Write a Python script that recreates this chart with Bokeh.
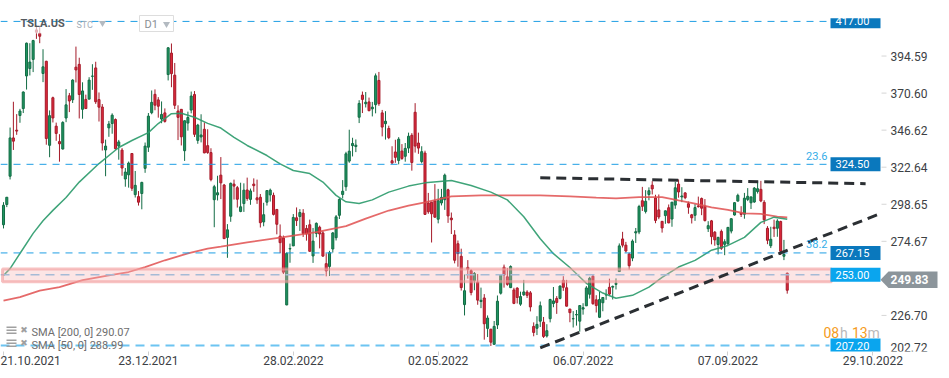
from bokeh.plotting import figure
from bokeh.models import Range1d, FixedTicker
from bokeh.core.properties import value
from bokeh.embed import file_html
from bokeh.resources import INLINE

# ---------------- data (TSLA.US daily, 21.10.2021 - 03.10.2022) ----------------
opens = [
    285.4, 298.5, 316.8, 341.6, 346.6, 356.1, 360.6, 381.7, 386.5, 392.4,
    411.5, 409.3, 383.3, 391.2, 336.8, 367.6, 349.2, 339.2, 334.4, 354.5,
    368.9, 366.3, 387.4, 389.2, 360.1, 366.5, 366.7, 381.5, 386.9, 366.4,
    361.6, 333.8, 348.1, 350.9, 353.5, 336.3, 333.7, 315.0, 317.7, 331.5,
    304.9, 303.6, 305.6, 321.9, 335.6, 357.9, 369.8, 366.2, 353.8, 357.8,
    382.6, 396.5, 382.2, 359.0, 360.1, 333.3, 351.2, 359.6, 369.7, 340.0,
    342.2, 347.2, 336.6, 332.1, 301.6, 304.7, 317.5, 311.1, 277.2, 290.9,
    311.7, 309.4, 294.0, 299.1, 307.9, 301.8, 311.7, 302.8, 303.2, 287.2,
    300.0, 304.7, 304.4, 295.3, 278.0, 276.8, 233.5, 269.7, 271.7, 289.9,
    290.7, 292.9, 283.0, 285.4, 265.2, 279.8, 283.8, 280.1, 260.2, 258.4,
    269.7, 277.0, 291.5, 305.0, 310.0, 326.6, 336.6, 336.0, 355.0, 369.3,
    363.7, 364.9, 360.4, 363.1, 378.8, 357.8, 350.8, 347.7, 326.8, 332.5,
    327.0, 333.1, 329.7, 335.0, 343.3, 358.2, 338.3, 326.3, 331.8, 299.5,
    300.0, 300.8, 289.0, 299.5, 301.6, 308.0, 289.7, 278.8, 273.1, 265.0,
    233.7, 257.8, 255.7, 249.1, 248.2, 235.7, 238.0, 218.3, 217.8, 208.0,
    220.5, 241.1, 257.9, 251.7, 244.7, 243.2, 244.4, 234.0, 240.1, 241.8,
    241.3, 219.6, 218.4, 223.0, 222.3, 213.4, 224.6, 234.4, 237.7, 237.7,
    249.4, 244.6, 230.8, 224.5, 227.0, 223.0, 230.8, 232.9, 240.4, 252.1,
    236.8, 225.5, 234.9, 240.0, 244.9, 245.0, 246.8, 255.1, 276.2, 272.2,
    266.5, 263.8, 280.1, 280.7, 300.9, 294.0, 305.0, 311.0, 302.7, 295.0,
    287.6, 291.3, 296.4, 289.1, 298.1, 311.7, 303.4, 306.0, 299.0, 291.8,
    291.5, 297.6, 302.4, 297.4, 282.8, 287.9, 280.6, 272.6, 281.1, 272.7,
    273.1, 281.3, 291.7, 300.7, 292.9, 292.2, 301.8, 299.6, 300.1, 306.9,
    308.3, 299.9, 283.1, 271.8, 283.8, 283.1, 287.5, 265.0, 254.0,
]
highs = [
    300.0, 303.3, 348.3, 365.0, 357.0, 360.4, 371.7, 403.3, 402.9, 405.1,
    414.5, 413.3, 399.0, 391.5, 359.4, 368.3, 351.5, 344.0, 352.4, 373.2,
    370.7, 379.6, 400.7, 393.5, 377.6, 369.6, 380.9, 389.3, 390.9, 371.0,
    363.5, 340.5, 352.6, 357.5, 354.2, 340.3, 335.0, 322.1, 326.3, 331.7,
    320.2, 307.2, 313.2, 338.6, 357.7, 372.3, 373.0, 368.0, 365.2, 360.7,
    400.4, 402.7, 390.1, 362.7, 360.3, 353.0, 358.6, 371.6, 371.9, 350.7,
    356.9, 351.6, 347.2, 334.9, 311.2, 317.1, 329.2, 311.8, 285.8, 312.7,
    314.6, 310.5, 312.6, 312.2, 315.9, 308.8, 315.4, 314.6, 305.3, 299.6,
    307.7, 308.8, 306.2, 295.6, 285.6, 278.4, 267.5, 273.2, 292.3, 296.6,
    295.5, 295.5, 285.2, 288.7, 283.3, 286.9, 284.8, 281.3, 266.9, 268.5,
    280.7, 291.7, 302.6, 314.3, 332.6, 346.9, 341.7, 340.6, 366.0, 371.6,
    371.3, 367.7, 364.9, 383.3, 384.3, 359.7, 358.9, 349.5, 336.2, 340.4,
    342.1, 337.6, 338.3, 345.0, 344.7, 364.1, 345.0, 336.2, 333.3, 306.0,
    300.0, 311.7, 308.6, 308.6, 318.5, 308.7, 293.3, 281.9, 275.2, 269.9,
    253.2, 262.5, 256.6, 254.8, 253.5, 244.7, 240.5, 226.7, 218.0, 223.1,
    239.6, 253.3, 259.6, 257.3, 259.1, 244.6, 244.9, 242.1, 249.7, 243.0,
    242.5, 222.2, 226.2, 235.7, 225.7, 221.0, 237.5, 245.1, 239.2, 246.1,
    252.1, 249.7, 231.0, 229.5, 230.2, 233.1, 234.6, 245.7, 251.7, 253.1,
    239.8, 242.1, 238.6, 243.6, 250.5, 246.0, 250.7, 273.3, 280.8, 274.3,
    267.3, 275.9, 283.3, 298.3, 309.9, 307.8, 309.6, 313.6, 304.8, 305.0,
    287.7, 294.6, 298.5, 300.1, 313.1, 314.7, 309.7, 306.5, 300.4, 292.4,
    298.8, 303.6, 303.0, 302.0, 287.7, 288.5, 281.3, 277.6, 282.3, 276.0,
    283.8, 289.5, 299.9, 305.5, 297.4, 306.0, 309.1, 303.7, 309.8, 313.8,
    313.8, 301.3, 284.5, 284.1, 288.7, 289.0, 288.0, 275.6, 254.5,
]
lows = [
    283.0, 296.8, 314.7, 333.8, 343.6, 351.4, 357.7, 372.9, 382.0, 384.2,
    405.7, 402.9, 377.7, 337.2, 329.1, 351.6, 339.7, 326.2, 334.1, 351.8,
    358.3, 364.2, 377.5, 354.2, 354.0, 360.3, 366.7, 372.7, 363.6, 352.2,
    333.4, 316.8, 342.3, 344.3, 334.1, 327.5, 317.1, 310.0, 309.4, 307.3,
    303.0, 297.8, 295.4, 319.0, 332.5, 356.9, 359.5, 354.7, 351.1, 351.5,
    378.8, 374.4, 360.3, 340.2, 336.7, 326.7, 346.3, 357.5, 342.2, 337.8,
    338.7, 331.7, 331.3, 313.5, 283.8, 301.1, 302.0, 276.3, 264.0, 287.3,
    301.7, 296.5, 293.5, 293.7, 300.9, 298.3, 306.7, 298.9, 283.6, 284.4,
    297.8, 300.4, 291.4, 279.2, 267.0, 253.5, 233.3, 260.8, 271.6, 284.6,
    281.4, 277.5, 275.1, 268.0, 260.7, 277.3, 270.1, 264.6, 252.0, 252.2,
    267.4, 275.2, 289.1, 302.4, 307.3, 325.5, 329.6, 332.4, 351.2, 357.7,
    361.3, 358.9, 355.5, 357.5, 362.4, 342.6, 340.5, 340.8, 324.9, 325.5,
    324.5, 327.4, 326.2, 331.8, 320.4, 332.1, 331.3, 325.1, 291.7, 292.5,
    273.9, 290.0, 286.3, 297.9, 295.0, 286.6, 279.4, 260.4, 258.2, 242.8,
    226.7, 250.5, 239.7, 243.0, 233.6, 231.4, 211.0, 212.7, 206.9, 207.7,
    217.9, 240.2, 244.7, 245.9, 244.4, 234.0, 234.4, 232.9, 239.3, 238.0,
    229.3, 213.2, 214.0, 219.2, 212.1, 212.4, 222.2, 232.0, 227.7, 237.1,
    242.6, 232.5, 222.3, 218.9, 220.1, 216.2, 227.2, 232.8, 237.6, 233.6,
    228.6, 225.0, 229.4, 236.8, 239.6, 237.0, 243.5, 254.9, 270.7, 267.4,
    256.3, 261.8, 273.6, 279.3, 294.3, 292.7, 301.2, 305.0, 286.4, 289.0,
    280.3, 286.0, 286.4, 284.1, 295.7, 302.9, 300.0, 301.9, 292.5, 286.2,
    287.9, 296.5, 291.6, 287.5, 280.7, 272.7, 271.8, 266.2, 269.1, 265.7,
    272.3, 279.8, 291.3, 300.4, 290.4, 289.3, 300.7, 295.6, 299.6, 305.6,
    300.0, 285.8, 272.8, 270.3, 277.5, 277.6, 265.8, 262.5, 240.8,
]
closes = [
    298.0, 303.2, 341.6, 339.5, 346.0, 359.0, 371.3, 402.9, 390.7, 404.6,
    410.0, 407.4, 387.6, 341.2, 356.0, 354.5, 344.5, 337.8, 351.6, 363.0,
    365.5, 379.0, 385.6, 369.7, 372.0, 360.6, 379.0, 381.6, 365.0, 361.5,
    338.3, 336.3, 350.6, 356.3, 334.6, 339.0, 322.1, 319.5, 325.3, 309.0,
    310.9, 300.0, 312.8, 336.3, 355.7, 364.6, 362.8, 362.1, 356.8, 352.3,
    399.9, 383.2, 362.7, 354.9, 342.3, 352.7, 354.8, 368.7, 343.9, 349.9,
    343.5, 331.9, 332.1, 314.6, 310.0, 306.1, 312.5, 276.4, 282.1, 312.2,
    310.4, 301.9, 297.0, 307.8, 302.4, 307.3, 310.7, 301.5, 286.7, 291.9,
    307.5, 307.8, 292.1, 285.7, 273.8, 254.7, 266.9, 270.0, 290.1, 288.1,
    293.3, 279.8, 279.4, 268.2, 274.8, 286.3, 279.4, 265.1, 255.5, 267.3,
    280.1, 290.5, 301.8, 307.1, 331.3, 333.0, 338.0, 336.9, 363.9, 366.5,
    364.7, 359.2, 361.5, 381.8, 363.8, 348.6, 352.4, 341.8, 325.3, 329.0,
    340.8, 328.3, 334.8, 342.7, 325.7, 336.3, 335.0, 332.7, 292.1, 293.8,
    292.5, 290.3, 301.0, 303.1, 317.5, 291.1, 288.6, 262.4, 266.7, 244.7,
    242.7, 256.5, 241.5, 253.9, 236.6, 236.5, 221.3, 225.0, 209.4, 219.6,
    235.9, 253.2, 252.8, 246.8, 258.3, 234.5, 238.3, 238.9, 241.9, 239.7,
    232.2, 215.7, 220.9, 233.0, 213.1, 216.8, 237.0, 236.1, 235.1, 245.7,
    244.9, 232.7, 228.5, 224.6, 227.3, 233.1, 231.7, 244.5, 250.8, 234.3,
    233.1, 237.0, 238.3, 240.1, 240.5, 245.5, 247.5, 271.7, 272.2, 268.4,
    258.9, 274.8, 280.9, 297.2, 297.3, 300.6, 307.4, 308.6, 288.2, 290.4,
    283.3, 294.4, 286.6, 300.0, 309.3, 306.6, 304.0, 302.9, 296.7, 289.9,
    296.5, 297.1, 296.1, 288.1, 284.8, 277.7, 275.6, 277.2, 270.1, 274.4,
    283.7, 289.3, 299.7, 304.4, 292.1, 302.6, 303.8, 303.4, 309.1, 308.7,
    300.8, 288.6, 275.3, 276.0, 282.9, 287.8, 268.2, 266.2, 243.0,
]

# SMA values (bar index, value)
sma50_bars = [0, 2, 5, 9, 12, 15, 19, 23, 29, 35, 39, 44, 47, 51, 54, 58, 62, 66, 70, 74,
              80, 84, 88, 93, 97, 101, 104, 108, 112, 117, 123, 128, 136, 142, 148, 153, 158,
              163, 167, 172, 177, 182, 186, 191, 196, 200, 205, 210, 215, 220, 225, 230, 234, 238]
sma50_vals = [252.6, 257.0, 266.8, 279.8, 288.0, 294.7, 303.0, 313.0, 325.0, 335.4, 339.9, 345.0,
              350.9, 357.3, 357.5, 355.0, 351.0, 348.0, 342.0, 336.7, 330.2, 324.8, 320.5, 318.5,
              313.0, 304.4, 300.2, 299.2, 301.5, 306.5, 310.4, 312.5, 314.0, 310.8, 306.5, 301.5,
              290.6, 276.3, 266.7, 257.7, 247.5, 241.2, 237.8, 239.7, 245.0, 251.3, 258.0, 262.3,
              268.9, 272.0, 277.2, 286.9, 290.3, 288.99]
sma200_bars = [0, 5, 11, 17, 24, 32, 38, 43, 49, 56, 62, 66, 74, 85, 95, 104, 110, 117, 123, 128,
               136, 145, 154, 163, 172, 180, 186, 193, 200, 205, 210, 215, 220, 225, 230, 235, 238]
sma200_vals = [236.3, 238.5, 242.8, 245.0, 249.5, 252.6, 254.8, 258.0, 262.4, 266.8, 270.0, 271.3,
               274.0, 277.4, 280.6, 284.5, 289.4, 294.6, 297.8, 299.9, 303.7, 304.4, 304.4, 304.4,
               303.7, 302.9, 302.4, 303.3, 303.3, 301.1, 299.0, 296.6, 295.0, 292.7, 292.4, 290.7,
               290.07]
sma200_last = 290.07
sma50_last = 288.99

# date axis
tick_bars = [0, 44, 88, 132, 176, 220, 264]
tick_labels = ["21.10.2021", "23.12.2021", "28.02.2022", "02.05.2022",
               "06.07.2022", "07.09.2022", "29.10.2022"]
# price scale
price_ticks = [202.72, 226.70, 250.69, 274.67, 298.65, 322.64, 346.62, 370.60, 394.59]

# horizontal levels
dark_levels = [417.00, 324.50, 267.15]
light_levels = [253.00, 207.20]
fib_levels = [324.50, 267.15]
fib_texts = ["23.6", "38.2"]
zone_bottom, zone_top = 248.5, 256.8
current_price = 249.83

# trend lines (bar index, price)
upper_trend_bars = [163, 261.8]
upper_trend_prices = [315.8, 312.0]
lower_trend_bars = [163, 265.3]
lower_trend_prices = [205.7, 291.8]

# ---------------- layout helpers (pixel grid of the chart) ----------------
BAR_PX, X_OFF = 3.293, 3.0
PT_PX, Y_REF, P_REF = 1.545, 166.7, 322.64


def bx(px):
    return (px - X_OFF) / BAR_PX


def py(ypx):
    return P_REF - (ypx - Y_REF) / PT_PX


FONT = "Roboto"
AXIS_TXT = "#3c4044"
GREEN, GREEN_D = "#1f9561", "#136c45"
RED, RED_D = "#de2a3c", "#a51b2a"
BLUE_LINE = "#1f9fe4"
BOX_DARK, BOX_LIGHT = "#0a78bd", "#0aa5ee"

p = figure(width=949, height=378,
           x_range=Range1d(bx(0), bx(949)), y_range=Range1d(py(351), py(0)),
           output_backend="svg", toolbar_location=None, y_axis_location=None,
           min_border_left=0, min_border_top=0, min_border_right=0, min_border_bottom=27,
           outline_line_color=None, background_fill_color="white", border_fill_color="white")
p.grid.visible = False

# date axis (below)
xa = p.xaxis[0]
xa.ticker = FixedTicker(ticks=tick_bars)
xa.major_label_overrides = {b: t for b, t in zip(tick_bars, tick_labels)}
xa.major_label_text_align = "left"
xa.major_label_text_font = FONT
xa.major_label_text_font_size = "12px"
xa.major_label_text_color = AXIS_TXT
xa.major_label_standoff = 0
xa.axis_line_color = None
xa.major_tick_line_color = "#cfcfcf"
xa.major_tick_out = 4
xa.major_tick_in = 0
xa.minor_tick_line_color = None

# candles
n = len(opens)
for want_up, fill, line in ((True, GREEN, GREEN_D), (False, RED, RED_D)):
    sel = [i for i in range(n) if (closes[i] >= opens[i]) == want_up]
    p.segment(x0=sel, y0=[lows[i] for i in sel], x1=sel, y1=[highs[i] for i in sel],
              line_color=line, line_width=1)
    p.vbar(x=sel, width=0.62,
           bottom=[min(opens[i], closes[i]) for i in sel],
           top=[max(opens[i], closes[i]) for i in sel],
           fill_color=fill, line_color=line, line_width=1)

# header veil (semi transparent)
p.quad(left=[bx(15)], right=[bx(178)], bottom=[py(33)], top=[py(12)],
       fill_color="white", fill_alpha=0.65, line_color=None)

# SMA lines
p.line(sma200_bars, sma200_vals, line_color="#e05050", line_width=1.8, line_alpha=0.85)
p.line(sma50_bars, sma50_vals, line_color="#2a9a6a", line_width=1.5, line_alpha=0.9)

# horizontal levels
right_end = bx(829)
for lv in dark_levels:
    p.segment(x0=[bx(0)], x1=[right_end], y0=[lv], y1=[lv], line_color=BLUE_LINE,
              line_width=1, line_dash="7 6")
p.segment(x0=[bx(0)], x1=[right_end], y0=[light_levels[1]], y1=[light_levels[1]],
          line_color="#6cc4f1", line_width=2, line_dash="9 6")
p.segment(x0=[bx(0)], x1=[right_end], y0=[light_levels[0]], y1=[light_levels[0]],
          line_color="#7cbfe9", line_width=1.5, line_dash="9 6")

# support zone
p.quad(left=[bx(2)], right=[bx(831)], bottom=[zone_bottom], top=[zone_top],
       fill_color="#f7b5b5", fill_alpha=0.35, line_color="#f29a9a", line_alpha=0.6, line_width=3)

# trend lines
p.line(upper_trend_bars, upper_trend_prices, line_color="#2b2f33", line_width=3, line_dash="10 6")
p.line(lower_trend_bars, lower_trend_prices, line_color="#2b2f33", line_width=3, line_dash="10 6")

# fib texts
p.text(x=[bx(827)] * 2, y=[lv + 5.5 for lv in fib_levels], text=fib_texts,
       text_font=value(FONT), text_font_size="11px", text_color="#35aee8",
       text_align="right", text_baseline="middle")

# level price boxes
HALF = 4.5
for levels, col in ((dark_levels, BOX_DARK), (light_levels, BOX_LIGHT)):
    p.quad(left=[bx(830)] * len(levels), right=[bx(880)] * len(levels),
           bottom=[lv - HALF for lv in levels], top=[lv + HALF for lv in levels],
           fill_color=col, line_color=None)
    p.text(x=[bx(835)] * len(levels), y=levels, text=[f"{lv:.2f}" for lv in levels],
           text_font=value(FONT), text_font_size="11px", text_color="white",
           text_align="left", text_baseline="middle")
# top of the 417 box is cut by the header strip
p.quad(left=[bx(828)], right=[bx(881)], bottom=[py(17.7)], top=[py(0)],
       fill_color="white", line_color=None)

# price scale on the right: small ticks and labels
shown = [t for t in price_ticks if t > py(351) and abs(t - current_price) > 3]
p.segment(x0=[bx(881)] * len(shown), x1=[bx(886)] * len(shown), y0=shown, y1=shown,
          line_color="#d6d6d6", line_width=1)
p.text(x=[bx(890)] * len(shown), y=shown, text=[f"{t:.2f}" for t in shown],
       text_font=value(FONT), text_font_size="12px", text_color=AXIS_TXT,
       text_align="left", text_baseline="middle")
# lowest tick label is clamped inside the chart like in the original
p.text(x=[bx(890)], y=[py(347)], text=[f"{price_ticks[0]:.2f}"],
       text_font=value(FONT), text_font_size="12px", text_color=AXIS_TXT,
       text_align="left", text_baseline="middle")

# current price marker
cp_half = 8.3 / PT_PX
p.patch(x=[bx(880), bx(888), bx(937), bx(937), bx(888)],
        y=[current_price, current_price + cp_half, current_price + cp_half,
           current_price - cp_half, current_price - cp_half],
        fill_color="#8c959b", line_color=None)
p.text(x=[bx(909)], y=[current_price], text=[f"{current_price:.2f}"],
       text_font=value(FONT), text_font_size="12px", text_font_style="bold",
       text_color="white", text_align="center", text_baseline="middle")

# countdown
p.text(x=[bx(823), bx(851.5)], y=[py(332)] * 2, text=["08", "13"], text_font=value(FONT),
       text_font_size="14px", text_color="#f59b22", text_align="left", text_baseline="middle")
p.text(x=[bx(839.5), bx(867)], y=[py(332)] * 2, text=["h", "m"], text_font=value(FONT),
       text_font_size="14px", text_color="#b9b9b9", text_align="left", text_baseline="middle")

# header
p.text(x=[bx(20)], y=[py(23.3)], text=["TSLA.US"], text_font=value(FONT), text_font_size="11px",
       text_font_style="bold", text_color="#555a5f", text_align="left", text_baseline="middle")
p.text(x=[bx(76)], y=[py(24.3)], text=["STC"], text_font=value(FONT), text_font_size="9px",
       text_color="#a3adb7", text_align="left", text_baseline="middle")
p.quad(left=[bx(139)], right=[bx(173)], bottom=[py(31)], top=[py(15)],
       fill_color="white", line_color="#dddddd", line_width=1)
p.text(x=[bx(144)], y=[py(24)], text=["D1"], text_font=value(FONT), text_font_size="11px",
       text_color="#8a8f94", text_align="left", text_baseline="middle")
p.scatter(x=[bx(102), bx(166)], y=[py(22.5), py(23.5)], marker="inverted_triangle", size=7,
          fill_color="#b3bac1", line_color=None)

# SMA legend
leg_y = [py(331.5), py(344.5)]
p.text(x=[bx(31)] * 2, y=leg_y,
       text=[f"SMA  [200,  0]  {sma200_last:.2f}", f"SMA  [50,  0]  {sma50_last:.2f}"],
       text_font=value(FONT), text_font_size="11px", text_color="#6e6e6e",
       text_align="left", text_baseline="middle")
for yy in (330.0, 343.0):
    p.quad(left=[bx(6)] * 3, right=[bx(16)] * 3,
           bottom=[py(yy - 4 + k * 3 + 1.6) for k in range(3)],
           top=[py(yy - 4 + k * 3) for k in range(3)],
           fill_color="#a0a0a0", line_color=None)
p.text(x=[bx(23.5)] * 2, y=[py(329.5), py(342.5)], text=["\u2716", "\u2716"],
       text_font=value("DejaVu Sans"), text_font_size="9px", text_color="#a0a0a0",
       text_align="center", text_baseline="middle")

open("out.html", "w").write(file_html(p, INLINE))
